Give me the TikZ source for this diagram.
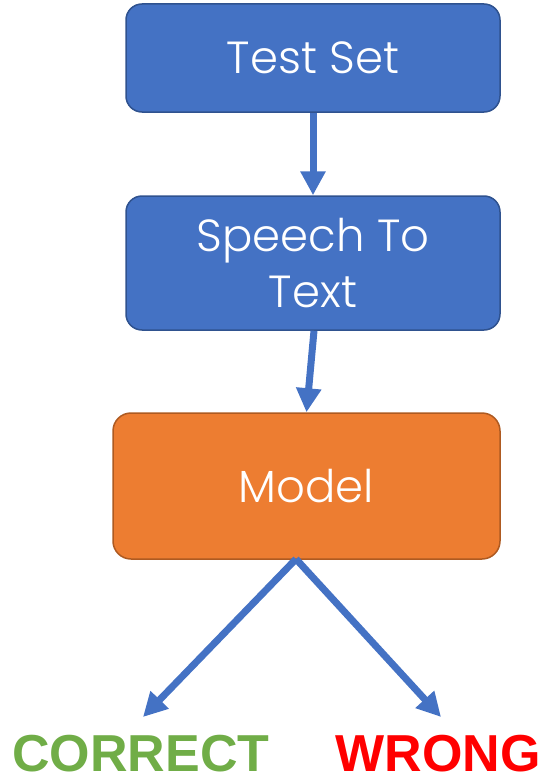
\documentclass[tikz,border=0pt]{standalone}
\usepackage{fontspec}
\setmainfont{Poppins}[UprightFont=* Light]
\newfontfamily\labelfont{Liberation Sans}[BoldFont=* Bold]
\usetikzlibrary{arrows.meta}
\definecolor{boxblue}{HTML}{4472C4}
\definecolor{boxblueedge}{HTML}{2F528F}
\definecolor{boxorange}{HTML}{ED7D31}
\definecolor{boxorangeedge}{HTML}{AE5A21}
\definecolor{okgreen}{HTML}{70AD47}
\definecolor{badred}{HTML}{FF0000}
\tikzset{
  px/.style={x=1pt,y=-1pt},
  bluebox/.style={draw=boxblueedge, fill=boxblue, line width=1.5pt, rounded corners=16pt,
    text=white, font=\fontsize{45}{56}\selectfont, align=center, inner sep=0pt},
  orangebox/.style={draw=boxorangeedge, fill=boxorange, line width=1.5pt, rounded corners=18pt,
    text=white, font=\fontsize{45}{56}\selectfont, align=center, inner sep=0pt},
  flow/.style={draw=boxblue, line width=7pt, -{Triangle[width=24pt,length=24pt]}},
  result/.style={font=\labelfont\bfseries\fontsize{52}{60}\selectfont, inner sep=0pt}
}
\begin{document}
\begin{tikzpicture}[px]
\useasboundingbox (0,0) rectangle (547,784);
\node[bluebox, minimum width=374pt, minimum height=108pt] (test) at (313,58) {Test Set};
\node[bluebox, minimum width=374pt, minimum height=134pt] (stt) at (313,263) {Speech To\\Text};
\node[orangebox, minimum width=387pt, minimum height=146pt] (model) at (306.5,486) {Model};
\node[result, text=okgreen] (correct) at (141,754) {CORRECT};
\node[result, text=badred] (wrong) at (438,754) {WRONG};
\coordinate (apex) at (296,559);
\coordinate (ltip) at (143,717);
\coordinate (rtip) at (441,717);
\draw[flow] (test.south) -- (stt.north);
\draw[flow] ([xshift=1pt]stt.south) -- (model.north);
\draw[flow] (apex) -- (ltip);
\draw[flow] (apex) -- (rtip);
\end{tikzpicture}
\end{document}
